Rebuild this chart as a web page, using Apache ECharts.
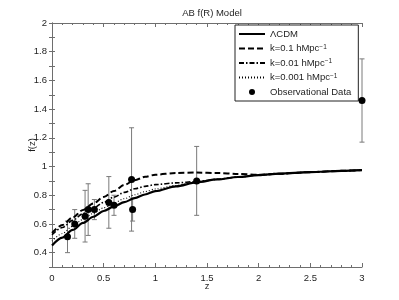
<!DOCTYPE html>
<html>
<head>
<meta charset="utf-8">
<script src="https://cdn.jsdelivr.net/npm/echarts@6/dist/echarts.min.js"></script>
<style>html,body{margin:0;padding:0;background:#fff}#c{width:399px;height:300px}</style>
</head>
<body>
<div id="c"></div>
<script>
// ---- data ----
const zGrid = [0, 0.1, 0.2, 0.3, 0.4, 0.5, 0.6, 0.7, 0.8, 0.9, 1.0, 1.2, 1.4, 1.6, 1.8, 2.0, 2.2, 2.5, 2.8, 3.0];
const lcdm  = [0.45, 0.505, 0.558, 0.607, 0.65, 0.69, 0.722, 0.752, 0.78, 0.805, 0.828, 0.862, 0.89, 0.91, 0.927, 0.94, 0.95, 0.961, 0.97, 0.975];
const k01   = [0.538, 0.592, 0.645, 0.697, 0.743, 0.788, 0.83, 0.872, 0.905, 0.928, 0.943, 0.955, 0.958, 0.955, 0.948, 0.943, 0.95, 0.961, 0.97, 0.975];
const k001  = [0.525, 0.575, 0.625, 0.672, 0.712, 0.75, 0.787, 0.82, 0.845, 0.862, 0.874, 0.886, 0.895, 0.911, 0.927, 0.94, 0.95, 0.961, 0.97, 0.975];
const k0001 = [0.48, 0.533, 0.584, 0.632, 0.674, 0.713, 0.746, 0.776, 0.803, 0.825, 0.844, 0.868, 0.891, 0.91, 0.927, 0.94, 0.95, 0.961, 0.97, 0.975];
const obsZ   = [0.15, 0.22, 0.32, 0.35, 0.41, 0.55, 0.60, 0.77, 0.78, 1.40, 3.00];
const obsF   = [0.51, 0.60, 0.654, 0.70, 0.70, 0.75, 0.73, 0.91, 0.70, 0.90, 1.46];
const obsErr = [0.11, 0.10, 0.18, 0.18, 0.07, 0.18, 0.07, 0.36, 0.08, 0.24, 0.29];
const xTicks = [0, 0.5, 1, 1.5, 2, 2.5, 3];
const yLabels = [0.4, 0.6, 0.8, 1, 1.2, 1.4, 1.6, 1.8, 2];
const names = ['ΛCDM', 'k=0.1 hMpc-1', 'k=0.01 hMpc-1', 'k=0.001 hMpc-1', 'Observational Data'];

const FONT = 'Liberation Sans, Arial, Helvetica, sans-serif';
const AX = '#6e6e6e';
const TXT = '#1e1e1e';

function pairs(xs, ys){ return xs.map((x,i)=>[x, ys[i]]); }

const chart = echarts.init(document.getElementById('c'), null, {renderer:'canvas'});

function lineSeries(name, vals, width, type){
  return {
    name, type:'line', data: pairs(zGrid, vals), symbol:'none', showSymbol:false,
    smooth: 0.3, smoothMonotone:'x',
    lineStyle:{color:'#000', width, type, cap:'butt'},
    itemStyle:{color:'#000'}, z: 3, animation:false
  };
}

const yLabelSet = new Set(yLabels.map(v=>Math.round(v*10)));
const hiddenSym = {color:'rgba(0,0,0,0)', borderWidth:0, opacity:0};

const option = {
  animation:false,
  backgroundColor:'#fff',
  textStyle:{fontFamily:FONT},
  title:{
    text:'AB f(R) Model', left:207, textAlign:'center', top:3,
    textStyle:{fontSize:9.5, fontWeight:'normal', color:TXT, fontFamily:FONT}
  },
  grid:{left:52, right:37, top:23, bottom:33, containLabel:false},
  xAxis:[{
    type:'value', min:xTicks[0], max:xTicks[xTicks.length-1], interval:0.5,
    name:'z', nameLocation:'middle', nameGap:14, nameMoveOverlap:false,
    nameTextStyle:{fontSize:9.5, color:TXT, fontFamily:FONT},
    axisLine:{show:true, lineStyle:{color:AX, width:1}},
    axisTick:{show:true, inside:true, length:4, lineStyle:{color:AX}},
    minorTick:{show:true, splitNumber:5, length:2, lineStyle:{color:AX}},
    axisLabel:{fontSize:9.5, color:TXT, margin:6, fontFamily:FONT},
    splitLine:{show:false}
  },{
    type:'value', position:'top', min:xTicks[0], max:xTicks[xTicks.length-1], interval:0.5,
    axisLine:{show:true, lineStyle:{color:AX, width:1}},
    axisTick:{show:true, inside:true, length:4, lineStyle:{color:AX}},
    minorTick:{show:true, splitNumber:5, length:2, lineStyle:{color:AX}},
    axisLabel:{show:false}, splitLine:{show:false}
  }],
  yAxis:[{
    type:'value', min:0.3, max:2, interval:0.1,
    name:'f(z)', nameLocation:'middle', nameGap:15, nameMoveOverlap:false,
    nameTextStyle:{fontSize:9.5, color:TXT, fontFamily:FONT},
    axisLine:{show:true, lineStyle:{color:AX, width:1}},
    axisTick:{show:true, inside:true, length:3, lineStyle:{color:AX}},
    axisLabel:{fontSize:9.5, color:TXT, margin:5, fontFamily:FONT,
      formatter:v=>{const t=Math.round(v*10); return yLabelSet.has(t)? String(t/10) : '';}},
    splitLine:{show:false}
  },{
    type:'value', position:'right', min:0.3, max:2, interval:0.1,
    axisLine:{show:true, lineStyle:{color:AX, width:1}},
    axisTick:{show:true, inside:true, length:3, lineStyle:{color:AX}},
    axisLabel:{show:false}, splitLine:{show:false}
  }],
  legend:{
    data:[
      {name:names[0], itemStyle:hiddenSym},
      {name:names[1], itemStyle:hiddenSym},
      {name:names[2], itemStyle:hiddenSym},
      {name:names[3], itemStyle:hiddenSym},
      {name:names[4], icon:'circle'}
    ],
    orient:'vertical', left:235, top:25,
    backgroundColor:'#fff', borderColor:'#222', borderWidth:1, borderRadius:0,
    padding:[4,7,4,3], itemWidth:26, itemHeight:6, itemGap:4.5,
    textStyle:{fontSize:9.5, color:TXT, fontFamily:FONT,
      rich:{sup:{fontSize:6.5, verticalAlign:'top', lineHeight:8, color:TXT, fontFamily:FONT}}},
    formatter:n=> n.endsWith('-1') ? n.slice(0,-2)+'{sup|−1}' : n,
    selectedMode:false
  },
  series:[
    {
      name:'errbars', type:'custom', z:1, animation:false,
      data: obsZ.map((z,i)=>[z, obsF[i]-obsErr[i], obsF[i]+obsErr[i]]),
      encode:{x:0, y:[1,2]},
      renderItem:(params, api)=>{
        const x=api.value(0), lo=api.value(1), hi=api.value(2);
        const p1=api.coord([x,lo]), p2=api.coord([x,hi]);
        const w=2.5;
        const st={stroke:'#7a7a7a', lineWidth:1};
        return {type:'group', children:[
          {type:'line', shape:{x1:p1[0],y1:p1[1],x2:p2[0],y2:p2[1]}, style:st},
          {type:'line', shape:{x1:p1[0]-w,y1:p1[1],x2:p1[0]+w,y2:p1[1]}, style:st},
          {type:'line', shape:{x1:p2[0]-w,y1:p2[1],x2:p2[0]+w,y2:p2[1]}, style:st}
        ]};
      }
    },
    lineSeries(names[0], lcdm, 2.2, 'solid'),
    lineSeries(names[1], k01, 2, [6,3]),
    lineSeries(names[2], k001, 1.6, [5,2,1.5,2]),
    lineSeries(names[3], k0001, 1.1, [1,2]),
    {
      name:names[4], type:'scatter', data:pairs(obsZ, obsF), symbol:'circle', symbolSize:7,
      itemStyle:{color:'#000', opacity:1}, z:4, clip:false, animation:false
    }
  ]
};
chart.setOption(option);
</script>
</body>
</html>
